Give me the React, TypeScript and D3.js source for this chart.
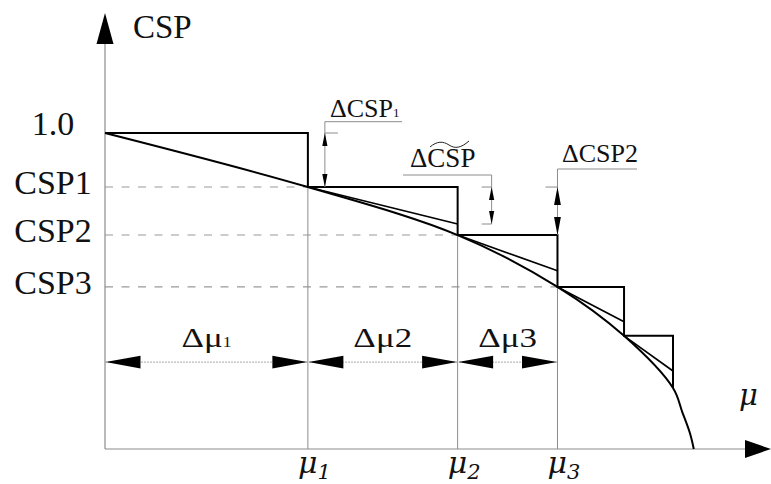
import React from "react";
import * as d3 from "d3";

// Step points of the staircase approximation (μ, CSP)
const stepMu = [0, 0.317, 0.551, 0.707, 0.811, 0.8875];
const stepCsp = [1.0, 0.829, 0.677, 0.513, 0.358, 0.193];
// Values where the tangent drawn from step i reaches the next step position
const tangentEnd = [0.712, 0.564, 0.403, 0.247];
// Exact CSP(μ) curve
const curveMu = [0, 0.317, 0.551, 0.707, 0.811, 0.8875, 0.902, 0.914, 0.92];
const curveCsp = [1.0, 0.829, 0.677, 0.513, 0.358, 0.193, 0.117, 0.05, 0.0];
// Axis labels
const yTickLabels = ["1.0", "CSP1", "CSP2", "CSP3"];
const muTickNames = ["1", "2", "3"];
const deltaMuSubs = ["1", "2", "3"];
// Level of the Δμ dimension line
const dimLevel = 0.275;

const W = 771;
const H = 484;
const SERIF = "'Liberation Serif', 'Times New Roman', serif";
const MATH = "'DejaVu Serif', serif";
const GRAY = "#8c8c8c";

const x = d3.scaleLinear().domain([0, 1]).range([105, 745]);
const y = d3.scaleLinear().domain([0, 1]).range([449, 133]);

type Dir = "up" | "down" | "left" | "right";
function arrowPts(tx: number, ty: number, dir: Dir, len: number, half: number): string {
  switch (dir) {
    case "up":
      return `${tx},${ty} ${tx - half},${ty + len} ${tx + half},${ty + len}`;
    case "down":
      return `${tx},${ty} ${tx - half},${ty - len} ${tx + half},${ty - len}`;
    case "left":
      return `${tx},${ty} ${tx + len},${ty - half} ${tx + len},${ty + half}`;
    default:
      return `${tx},${ty} ${tx - len},${ty - half} ${tx - len},${ty + half}`;
  }
}

export default function App() {
  const x0 = x(0);
  const yBase = y(0);

  const stepPath = d3
    .line<number>()
    .x((_, i) => x(stepMu[i]))
    .y((v) => y(v))
    .curve(d3.curveStepAfter)(stepCsp) as string;

  const curvePath = d3
    .line<number>()
    .x((_, i) => x(curveMu[i]))
    .y((v) => y(v))
    .curve(d3.curveCatmullRom.alpha(0.5))(curveCsp) as string;

  const dimY = y(dimLevel);

  // ΔCSP1 dimension (between 1.0 and CSP1, just right of μ1)
  const d1x = x(stepMu[1]) + 17;
  // ΔCSP~ dimension (between CSP1 and the tangent end at μ2)
  const d2x = x(stepMu[2]) + 34;
  // ΔCSP2 dimension (between CSP1 and CSP2 at μ3)
  const d3x = x(stepMu[3]);

  return (
    <svg
      width={W}
      height={H}
      viewBox={`0 0 ${W} ${H}`}
      style={{ position: "absolute", left: 0, top: 0, background: "#fff" }}
    >
      {/* dashed reference levels */}
      {[1, 2, 3].map((i) => (
        <line
          key={`dash${i}`}
          x1={x0}
          x2={x(stepMu[i])}
          y1={y(stepCsp[i])}
          y2={y(stepCsp[i])}
          stroke="#9a9a9a"
          strokeWidth={1.1}
          strokeDasharray="8 8.5"
        />
      ))}

      {/* vertical guides at μ1..μ3 */}
      {[1, 2, 3].map((i) => (
        <line
          key={`vg${i}`}
          x1={x(stepMu[i])}
          x2={x(stepMu[i])}
          y1={yBase}
          y2={y(stepCsp[i])}
          stroke={GRAY}
          strokeWidth={1}
        />
      ))}

      {/* axes */}
      <line x1={x0} x2={x0} y1={yBase} y2={43} stroke={GRAY} strokeWidth={1.2} />
      <polygon points={arrowPts(x0, 13, "up", 31, 8.5)} fill="#000" />
      <line x1={x0} x2={746} y1={yBase} y2={yBase} stroke={GRAY} strokeWidth={1.2} />
      <polygon points={arrowPts(771, yBase, "right", 26, 9)} fill="#000" />

      {/* Δμ dimension line */}
      <line
        x1={x0}
        x2={x(stepMu[3])}
        y1={dimY}
        y2={dimY}
        stroke="#a8a8a8"
        strokeWidth={1}
        strokeDasharray="2 1"
      />
      {[0, 1, 2].map((i) => {
        const a = x(stepMu[i]);
        const b = x(stepMu[i + 1]);
        const cx = (a + b) / 2;
        return (
          <g key={`dmu${i}`}>
            <polygon points={arrowPts(a + 0.5, dimY, "left", 35, 6.3)} fill="#000" />
            <polygon points={arrowPts(b - 0.5, dimY, "right", 35, 6.3)} fill="#000" />
            <g transform={`translate(${cx},${dimY - 15}) scale(1.25,1)`}>
              <text textAnchor="middle" fontFamily={SERIF} fontSize={28} fill="#111">
                Δμ
                {i === 0 ? (
                  <tspan fontSize={14}>{deltaMuSubs[i]}</tspan>
                ) : (
                  <tspan>{deltaMuSubs[i]}</tspan>
                )}
              </text>
            </g>
          </g>
        );
      })}

      {/* tangent lines */}
      {tangentEnd.map((t, k) => {
        const i = k + 1;
        return (
          <line
            key={`tan${i}`}
            x1={x(stepMu[i])}
            y1={y(stepCsp[i])}
            x2={x(stepMu[i + 1])}
            y2={y(t)}
            stroke="#000"
            strokeWidth={1.7}
          />
        );
      })}

      {/* exact curve */}
      <path d={curvePath} fill="none" stroke="#000" strokeWidth={2} />

      {/* staircase */}
      <path d={stepPath} fill="none" stroke="#000" strokeWidth={2} strokeLinejoin="miter" />

      {/* ΔCSP1 dimension */}
      <g>
        <line x1={d1x} x2={d1x} y1={121.7} y2={y(stepCsp[1])} stroke={GRAY} strokeWidth={1} />
        <line x1={d1x} x2={402} y1={121.7} y2={121.7} stroke={GRAY} strokeWidth={1} />
        <line x1={d1x} x2={d1x + 13} y1={y(stepCsp[0])} y2={y(stepCsp[0])} stroke={GRAY} strokeWidth={1} />
        <polygon points={arrowPts(d1x, y(stepCsp[0]), "up", 13, 2.6)} fill="#000" />
        <polygon points={arrowPts(d1x, y(stepCsp[1]), "down", 13, 2.6)} fill="#000" />
        <text x={330} y={117} fontFamily={SERIF} fontSize={26} fill="#111">
          ΔCSP<tspan fontSize={13}>1</tspan>
        </text>
      </g>

      {/* ΔCSP~ dimension */}
      <g>
        <line x1={d2x} x2={d2x} y1={175} y2={y(tangentEnd[0])} stroke={GRAY} strokeWidth={1} />
        <line x1={403} x2={d2x} y1={175} y2={175} stroke={GRAY} strokeWidth={1} />
        <line x1={d2x - 10} x2={d2x} y1={y(stepCsp[1])} y2={y(stepCsp[1])} stroke={GRAY} strokeWidth={1} />
        <line x1={d2x - 10} x2={d2x} y1={y(tangentEnd[0])} y2={y(tangentEnd[0])} stroke={GRAY} strokeWidth={1} />
        <polygon points={arrowPts(d2x, y(stepCsp[1]), "up", 13, 2.6)} fill="#000" />
        <polygon points={arrowPts(d2x, y(tangentEnd[0]), "down", 13, 2.6)} fill="#000" />
        <text x={410} y={167} fontFamily={SERIF} fontSize={27} fill="#111">
          ΔCSP
        </text>
        <path
          d="M430,147 C437,141 443,141 449,145 C455,149 461,148 469,141"
          fill="none"
          stroke="#222"
          strokeWidth={1}
        />
      </g>

      {/* ΔCSP2 dimension */}
      <g>
        <line x1={d3x} x2={d3x} y1={169} y2={y(stepCsp[2])} stroke={GRAY} strokeWidth={1} />
        <line x1={d3x} x2={637} y1={169} y2={169} stroke={GRAY} strokeWidth={1} />
        <line x1={d3x - 12} x2={d3x} y1={y(stepCsp[1])} y2={y(stepCsp[1])} stroke={GRAY} strokeWidth={1} />
        <polygon points={arrowPts(d3x, y(stepCsp[1]), "up", 18, 3.4)} fill="#000" />
        <polygon points={arrowPts(d3x, y(stepCsp[2]), "down", 18, 3.4)} fill="#000" />
        <text x={562} y={162} fontFamily={SERIF} fontSize={26} fill="#111">
          ΔCSP2
        </text>
      </g>

      {/* y axis title and tick labels */}
      <text x={133} y={38} fontFamily={SERIF} fontSize={33} fill="#111">
        CSP
      </text>
      {yTickLabels.map((lab, i) => (
        <text
          key={lab}
          x={53}
          y={y(stepCsp[i]) + (i === 0 ? 2 : 7)}
          textAnchor="middle"
          fontFamily={SERIF}
          fontSize={34}
          fill="#111"
        >
          {lab}
        </text>
      ))}

      {/* μ tick labels */}
      {muTickNames.map((n, k) => (
        <text
          key={`mu${n}`}
          x={x(stepMu[k + 1]) - 10}
          y={473}
          fontFamily={MATH}
          fontStyle="italic"
          fontSize={30}
          fill="#111"
        >
          μ
          <tspan fontSize={21} dy={6}>
            {n}
          </tspan>
        </text>
      ))}

      {/* x axis title */}
      <text x={739} y={405} fontFamily={MATH} fontStyle="italic" fontSize={29} fill="#111">
        μ
      </text>
    </svg>
  );
}
